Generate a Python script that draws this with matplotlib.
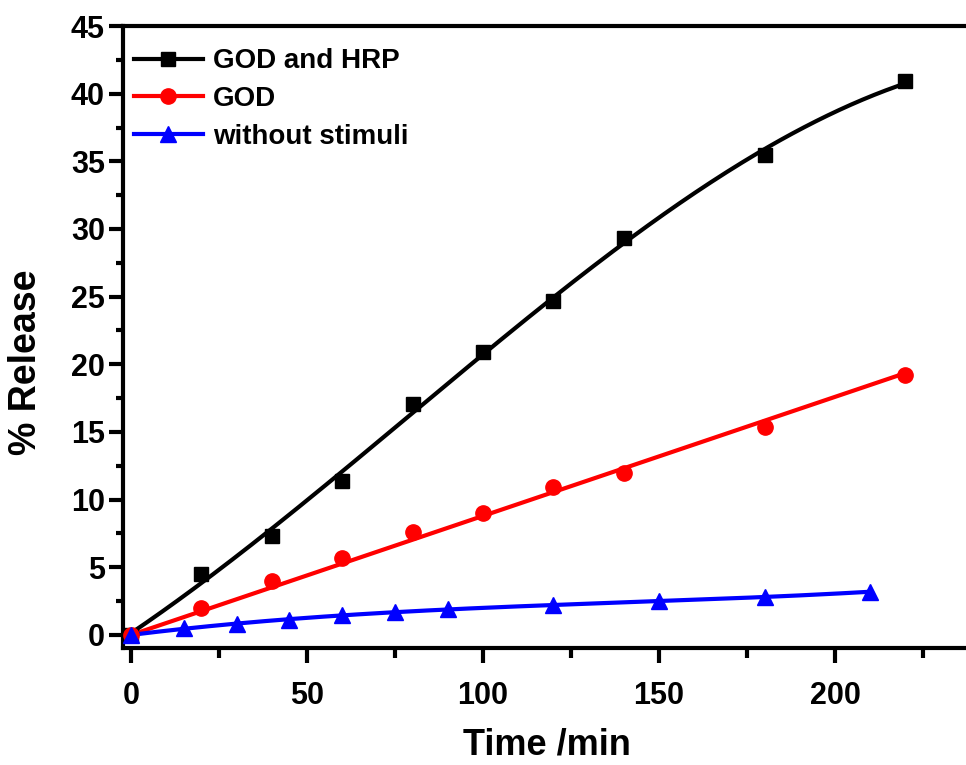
import numpy as np
import matplotlib
matplotlib.use("Agg")
import matplotlib.pyplot as plt
from matplotlib.ticker import MultipleLocator

plt.rcParams['font.family'] = ['Liberation Sans', 'DejaVu Sans']
plt.rcParams['font.weight'] = 'bold'

# Data
x_hrp = [0, 20, 40, 60, 80, 100, 120, 140, 180, 220]
y_hrp = [0, 4.5, 7.3, 11.4, 17.1, 20.9, 24.7, 29.3, 35.5, 40.9]
x_god = [0, 20, 40, 60, 80, 100, 120, 140, 180, 220]
y_god = [0, 2.0, 4.0, 5.7, 7.6, 9.0, 10.9, 12.0, 15.4, 19.2]
x_ctl = [0, 15, 30, 45, 60, 75, 90, 120, 150, 180, 210]
y_ctl = [0, 0.5, 0.8, 1.1, 1.5, 1.7, 1.9, 2.2, 2.5, 2.8, 3.2]

labels = ["GOD and HRP", "GOD", "without stimuli"]

fig = plt.figure(figsize=(9.66, 7.65), dpi=100)
ax = fig.add_axes([0.1273, 0.153, 0.877, 0.813])

def poly_fit(x, y, deg):
    p = np.polyfit(x, y, deg)
    xs = np.linspace(min(x), max(x), 200)
    return xs, np.polyval(p, xs)

def origin_fit(x, y):
    x = np.asarray(x, float); y = np.asarray(y, float)
    k = (x * y).sum() / (x * x).sum()
    xs = np.linspace(x.min(), x.max(), 50)
    return xs, k * xs

fits = [poly_fit(x_hrp, y_hrp, 3), origin_fit(x_god, y_god), poly_fit(x_ctl, y_ctl, 3)]
series = [
    (x_hrp, y_hrp, 'black', 's', 10),
    (x_god, y_god, '#ff0000', 'o', 11),
    (x_ctl, y_ctl, '#0000ff', '^', 11),
]
handles = []
for (x, y, c, m, ms), (xs, ys), lab in zip(series, fits, labels):
    ax.plot(xs, ys, color=c, lw=3, zorder=2)
    ax.plot(x, y, linestyle='none', marker=m, color=c, ms=ms, zorder=3)
    h, = ax.plot([], [], color=c, lw=3, marker=m, ms=ms)
    handles.append(h)

ax.set_xlim(-2.27, 238.4)
ax.set_ylim(-0.96, 45)
ax.xaxis.set_major_locator(MultipleLocator(50))
ax.xaxis.set_minor_locator(MultipleLocator(25))
ax.yaxis.set_major_locator(MultipleLocator(5))
ax.yaxis.set_minor_locator(MultipleLocator(2.5))

for s in ax.spines.values():
    s.set_linewidth(3)
ax.tick_params(which='major', direction='out', length=10, width=3, labelsize=22, pad=3)
ax.tick_params(which='minor', direction='out', length=5, width=3)
ax.tick_params(axis='x', which='major', length=11, pad=13)
ax.tick_params(axis='x', which='minor', length=7)
for t in ax.get_xticklabels() + ax.get_yticklabels():
    t.set_fontweight('bold')

ax.set_xlabel("Time /min", fontsize=26, fontweight='bold', labelpad=12)
ax.set_ylabel("% Release", fontsize=27, fontweight='bold')
ax.yaxis.set_label_coords(-0.093, 0.46)

leg = ax.legend(handles, labels, loc='upper left', frameon=False, fontsize=20,
                handlelength=2.5, handletextpad=0.35, labelspacing=0.42,
                borderaxespad=0.2, bbox_to_anchor=(-0.007, 0.991))
for t in leg.get_texts():
    t.set_fontweight('bold')

fig.savefig("out.png", dpi=100)
